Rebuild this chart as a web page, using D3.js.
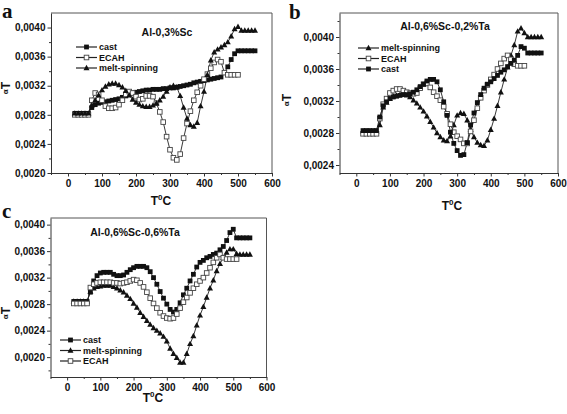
<!DOCTYPE html>
<html><head><meta charset="utf-8">
<script src="https://cdnjs.cloudflare.com/ajax/libs/d3/7.8.5/d3.min.js"></script>
<style>
html,body{margin:0;padding:0;background:#fff;}
svg{display:block;font-family:"Liberation Sans",Arial,sans-serif;}
</style></head>
<body>
<svg id="chart" width="567" height="414"></svg>
<script>
// ---- data ----
const temps = [20,30,40,50,60,70,80,90,100,110,120,130,140,150,160,170,180,190,200,210,220,230,240,250,260,270,280,290,300,310,320,330,340,350,360,370,380,390,400,410,420,430,440,450,460,470,480,490,500,510,520,530,540,550];
const xTicks = [0,100,200,300,400,500,600];
const yTicksA = [0.0020,0.0024,0.0028,0.0032,0.0036,0.0040];
const yTicksB = [0.0024,0.0028,0.0032,0.0036,0.0040];
const yTicksC = [0.0020,0.0024,0.0028,0.0032,0.0036,0.0040];

// Panel a: Al-0,3%Sc
const castA = [.00282,.00282,.00282,.00282,.00282,.0029,.00294,.00296,.00297,.00298,.00299,.003,.00301,.00302,.00304,.00306,.00308,.0031,.00311,.00312,.00313,.00314,.00314,.00315,.00315,.00315,.00316,.00316,.00317,.00317,.00318,.00319,.0032,.00321,.00322,.00324,.00325,.00326,.00327,.00328,.00329,.0033,.00331,.00332,.00338,.00346,.00356,.00364,.00368,.00368,.00368,.00368,.00368,.00368];
const ecahA = [.0028,.0028,.0028,.0028,.0028,.003,.0031,.00308,.003,.00292,.00289,.00289,.0029,.00294,.003,.00308,.00312,.0031,.00305,.00301,.00302,.00306,.00306,.00305,.00296,.00284,.0027,.0025,.00232,.00221,.00218,.00226,.00248,.00268,.00285,.003,.00311,.0032,.00329,.00336,.00344,.00352,.00356,.00353,.00338,.00335,.00335,.00335,.00335];
const meltA = [.00282,.00282,.00282,.00282,.00282,.00293,.003,.00307,.00314,.00319,.00322,.00323,.00323,.00321,.00318,.00313,.00307,.00301,.00297,.00294,.00292,.00291,.00291,.00293,.00296,.003,.00305,.00312,.00318,.0032,.00318,.00306,.0029,.00275,.00266,.00264,.00269,.00292,.00312,.00335,.00355,.00366,.0037,.00373,.00376,.0038,.00388,.00398,.00401,.00396,.00396,.00396,.00396,.00396];

// Panel b: Al-0,6%Sc-0,2%Ta
const meltB = [.00282,.00282,.00282,.00282,.00282,.0029,.00312,.00318,.00323,.00326,.00327,.00328,.00328,.00327,.00325,.00321,.00317,.00312,.00307,.00301,.00294,.00287,.0028,.00275,.00271,.0027,.00276,.0029,.00302,.00305,.00304,.00296,.00284,.00275,.00268,.00265,.00264,.00271,.00284,.00298,.00314,.00331,.00347,.00362,.00377,.0039,.00407,.00411,.00405,.004,.004,.004,.004,.004];
const ecahB = [.00279,.00279,.00279,.00279,.00279,.00298,.00316,.00323,.0033,.00333,.00335,.00335,.00333,.00331,.0033,.00329,.0033,.00336,.00341,.00342,.00337,.00331,.00326,.00321,.00313,.00304,.00291,.00281,.00276,.00272,.00267,.00267,.00282,.00296,.00311,.00324,.00333,.0034,.00347,.00353,.0036,.00367,.00373,.00377,.00372,.00366,.00364,.00364,.00364];
const castB = [.00283,.00283,.00283,.00283,.00283,.003,.00314,.00319,.00323,.00325,.00326,.00327,.00328,.00328,.00329,.00331,.00334,.00338,.00341,.00345,.00347,.00347,.00344,.00334,.00319,.00302,.00281,.00267,.00258,.00252,.00253,.00268,.0029,.00305,.00318,.00328,.00336,.00341,.00344,.00348,.00352,.00356,.00359,.00363,.00367,.00371,.00377,.00388,.00386,.0038,.0038,.0038,.0038,.0038];

// Panel c: Al-0,6%Sc-0,6%Ta
const castC = [.00284,.00284,.00284,.00284,.00284,.00298,.00315,.00323,.00327,.00328,.00328,.00328,.00325,.00323,.00323,.00324,.00328,.00332,.00335,.00337,.00337,.00337,.00335,.00329,.0032,.0031,.00299,.00289,.0028,.00272,.00268,.00272,.00282,.00294,.00304,.00315,.00325,.00336,.00343,.00346,.0035,.00352,.00355,.00357,.00362,.00367,.00376,.00388,.00393,.0038,.0038,.0038,.0038,.0038];
const meltC = [.00284,.00284,.00284,.00284,.00284,.00299,.00304,.00306,.00307,.00308,.00308,.00308,.00306,.00304,.00301,.00298,.00293,.00288,.00281,.00275,.00267,.00261,.00255,.00249,.00244,.0024,.00236,.00231,.00224,.00213,.00205,.00199,.00192,.00192,.00205,.0022,.00232,.00248,.00263,.00276,.0029,.00304,.00316,.0033,.00341,.0035,.00358,.00363,.00363,.00356,.00355,.00355,.00355,.00355];
const ecahC = [.00281,.00281,.00281,.00281,.00281,.00305,.0031,.00312,.00313,.00313,.00313,.00313,.00312,.00312,.00311,.00312,.00313,.00315,.00317,.00316,.00312,.00306,.00298,.00289,.00281,.00274,.00267,.00262,.00259,.00258,.00259,.00265,.00274,.00283,.0029,.00297,.00304,.0031,.00315,.0032,.00327,.00335,.00343,.0035,.00355,.0035,.00348,.00348,.00348,.00348];

// ---- layout ----
const panels = [
  {letter:"a", title:"Al-0,3%Sc", x0:51, x1:272, y0:13, y1:173, yDom:[0.0020,0.0042], yTicks:yTicksA,
   series:[{name:"cast",v:castA,m:"sq"},{name:"ECAH",v:ecahA,m:"osq"},{name:"melt-spinning",v:meltA,m:"tri"}],
   letterPos:[2,18], titlePos:[167,36], legPos:[76,47], yLab:[10,88], xLab:[161,205]},
  {letter:"b", title:"Al-0,6%Sc-0,2%Ta", x0:339.5, x1:558, y0:13, y1:173, yDom:[0.0023,0.0043], yTicks:yTicksB,
   series:[{name:"melt-spinning",v:meltB,m:"tri"},{name:"ECAH",v:ecahB,m:"osq"},{name:"cast",v:castB,m:"sq"}],
   letterPos:[289,19], titlePos:[445,30], legPos:[358,48], yLab:[291,100], xLab:[452,210]},
  {letter:"c", title:"Al-0,6%Sc-0,6%Ta", x0:50.5, x1:266.5, y0:218, y1:377, yDom:[0.0017,0.0041], yTicks:yTicksC,
   series:[{name:"cast",v:castC,m:"sq"},{name:"melt-spinning",v:meltC,m:"tri"},{name:"ECAH",v:ecahC,m:"osq"}],
   letterPos:[2,218], titlePos:[135,236], legPos:[60,340], yLab:[10,313], xLab:[153,402]}
];

const svg = d3.select("#chart");
const fmt = v => d3.format(".4f")(v).replace(".", ",");
const AX = "#333";

function marker(g, type, x, y) {
  if (type === "sq") {
    g.append("rect").attr("x", x-2.4).attr("y", y-2.4).attr("width", 4.8).attr("height", 4.8).attr("fill", "#111");
  } else if (type === "osq") {
    g.append("rect").attr("x", x-2.3).attr("y", y-2.3).attr("width", 4.6).attr("height", 4.6)
      .attr("fill", "#fff").attr("stroke", "#444").attr("stroke-width", 0.9);
  } else {
    g.append("path").attr("d", `M${x},${y-3.2}L${x+3},${y+2.2}L${x-3},${y+2.2}Z`).attr("fill", "#111");
  }
}

panels.forEach(p => {
  const x = d3.scaleLinear().domain([-50, 600]).range([p.x0, p.x1]);
  const y = d3.scaleLinear().domain(p.yDom).range([p.y1, p.y0]);
  const g = svg.append("g");

  // frame top/right
  g.append("line").attr("x1", p.x0).attr("x2", p.x1).attr("y1", p.y0).attr("y2", p.y0).attr("stroke", "#555");
  g.append("line").attr("x1", p.x1).attr("x2", p.x1).attr("y1", p.y0).attr("y2", p.y1).attr("stroke", "#555");

  // minor ticks
  const xMinor = [-50,50,150,250,350,450,550];
  g.append("g").attr("transform", `translate(0,${p.y1})`)
    .call(d3.axisBottom(x).tickValues(xMinor).tickSize(2).tickFormat(""))
    .call(s => s.select(".domain").remove()).selectAll("line").attr("stroke", AX);
  const yMinor = p.yTicks.map(t => t + 0.0002).filter(t => t < p.yDom[1]);
  if (p.yDom[0] < p.yTicks[0] - 0.0001) yMinor.push(p.yTicks[0] - 0.0002);
  g.append("g").attr("transform", `translate(${p.x0},0)`)
    .call(d3.axisLeft(y).tickValues(yMinor).tickSize(2).tickFormat(""))
    .call(s => s.select(".domain").remove()).selectAll("line").attr("stroke", AX);

  // major axes
  const xa = g.append("g").attr("transform", `translate(0,${p.y1})`)
    .call(d3.axisBottom(x).tickValues(xTicks).tickSize(3.5).tickSizeOuter(0).tickPadding(3.5));
  const ya = g.append("g").attr("transform", `translate(${p.x0},0)`)
    .call(d3.axisLeft(y).tickValues(p.yTicks).tickFormat(fmt).tickSize(3.5).tickSizeOuter(0).tickPadding(2));
  [xa, ya].forEach(a => {
    a.select(".domain").attr("stroke", AX);
    a.selectAll("line").attr("stroke", AX);
    a.selectAll("text").attr("font-size", 10).attr("font-weight", "bold").attr("fill", "#111")
      .attr("font-family", "'Liberation Sans',Arial,sans-serif");
  });

  // series
  p.series.forEach(s => {
    const pts = s.v.map((v, i) => [temps[i], v]);
    g.append("path").datum(pts)
      .attr("d", d3.line().x(d => x(d[0])).y(d => y(d[1])))
      .attr("fill", "none").attr("stroke", "#222").attr("stroke-width", 0.9);
  });
  p.series.forEach(s => {
    const mg = g.append("g");
    s.v.forEach((v, i) => marker(mg, s.m, x(temps[i]), y(v)));
  });

  // title
  g.append("text").attr("x", p.titlePos[0]).attr("y", p.titlePos[1]).attr("text-anchor", "middle")
    .attr("font-size", 10.5).attr("font-weight", "bold").attr("fill", "#111").text(p.title);

  // legend
  p.series.forEach((s, i) => {
    const ly = p.legPos[1] + i * 10.5;
    const lx = p.legPos[0];
    g.append("line").attr("x1", lx).attr("x2", lx + 21).attr("y1", ly).attr("y2", ly)
      .attr("stroke", "#222").attr("stroke-width", 1.2);
    marker(g, s.m, lx + 10.5, ly);
    g.append("text").attr("x", lx + 23).attr("y", ly + 3.3).attr("font-size", 9).attr("font-weight", "bold")
      .attr("fill", "#111").text(s.name);
  });

  // panel letter
  g.append("text").attr("x", p.letterPos[0]).attr("y", p.letterPos[1])
    .attr("font-family", "'Liberation Serif','Times New Roman',serif").attr("font-weight", "bold")
    .attr("font-size", 21).attr("fill", "#111").text(p.letter);

  // y label
  const yl = g.append("text").attr("transform", `translate(${p.yLab[0]},${p.yLab[1]}) rotate(-90)`)
    .attr("text-anchor", "middle").attr("fill", "#111").attr("font-weight", "bold");
  yl.append("tspan").attr("font-size", 8).attr("dy", -2).text("α");
  yl.append("tspan").attr("font-size", 12).attr("dy", 2).text("T");

  // x label
  const xl = g.append("text").attr("x", p.xLab[0]).attr("y", p.xLab[1]).attr("text-anchor", "middle")
    .attr("fill", "#111").attr("font-weight", "bold").attr("font-size", 12);
  xl.append("tspan").text("T");
  xl.append("tspan").attr("font-size", 8).attr("dy", -5).text("0");
  xl.append("tspan").attr("dy", 5).text("C");
});
</script>
</body></html>
